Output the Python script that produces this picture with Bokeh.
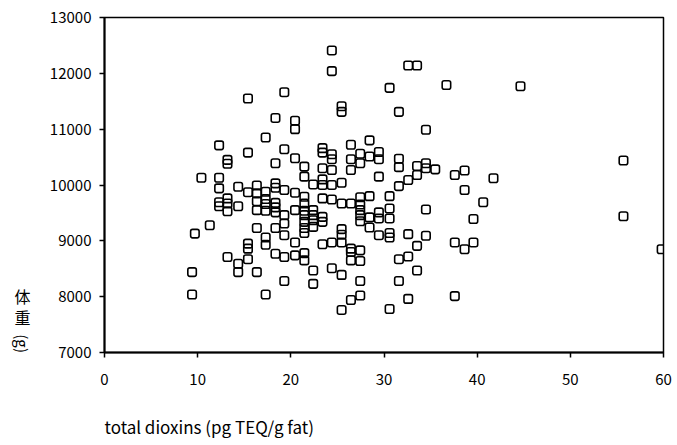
from bokeh.plotting import figure
from bokeh.layouts import row
from bokeh.models import Range1d, FixedTicker, Title
from bokeh.core.properties import value
from bokeh.embed import file_html
from bokeh.resources import INLINE

# total dioxins in breast milk (pg TEQ/g fat) and infant body weight (g),
# listed column by column along the x axis
dioxins = (
    [9.4, 9.4, 9.7, 10.4, 11.3]
    + [12.3] * 5 + [13.2] * 6 + [14.35] * 4 + [15.4] * 6 + [16.35] * 6
    + [17.3] * 8 + [18.35] * 9 + [19.3] * 8 + [20.45] * 7 + [21.45] * 11
    + [22.4] * 7 + [23.4] * 9 + [24.4] * 9 + [25.45] * 9 + [26.45] * 8
    + [27.45] * 11 + [28.45] * 5 + [29.45] * 6 + [30.6] * 7 + [31.6] * 6
    + [32.6] * 5 + [33.55] * 5 + [34.5] * 5
    + [35.5, 36.7, 37.6, 37.6, 37.6, 38.65, 38.65, 38.65, 39.6, 39.6,
       40.65, 41.75, 44.65, 55.7, 55.7, 59.8]
)
body_weight = [
    8440, 8040, 9130, 10130, 9280,
    10710, 10130, 9940, 9690, 9620,
    10450, 10380, 9760, 9670, 9530, 8710,
    9970, 9620, 8590, 8440,
    11550, 10580, 9870, 8950, 8860, 8670,
    9990, 9850, 9710, 9550, 9230, 8440,
    10850, 9880, 9750, 9660, 9540, 9060, 8930, 8040,
    11200, 10390, 10030, 9950, 9680, 9600, 9510, 9230, 8770,
    11660, 10640, 9910, 9460, 9310, 9100, 8710, 8280,
    11150, 11000, 10480, 9860, 9550, 8970, 8740,
    10330, 10150, 9790, 9670, 9540, 9460, 9340, 9230, 9140, 8780, 8650,
    10010, 9550, 9460, 9370, 9250, 8470, 8230,
    10660, 10580, 10300, 10100, 10000, 9760, 9430, 9340, 8940,
    12410, 12040, 10550, 10460, 10270, 10000, 9740, 8970, 8510,
    11410, 11310, 10040, 9670, 9210, 9110, 8970, 8390, 7760,
    10720, 10460, 10270, 9670, 8860, 8800, 8650, 7940,
    10560, 10390, 9780, 9650, 9550, 9460, 9350, 8830, 8640, 8280, 8020,
    10800, 10510, 9800, 9420, 9240,
    10590, 10460, 10150, 9510, 9400, 9100,
    11740, 9800, 9580, 9400, 9140, 9060, 7780,
    11310, 10470, 10320, 9980, 8670, 8280,
    12140, 10090, 9120, 8720, 7960,
    12140, 10340, 10180, 8910, 8470,
    10990, 10390, 10300, 9560, 9090,
    10280, 11790, 10180, 8970, 8010, 10260, 9910, 8850, 9390, 8970,
    9690, 10120, 11770, 10440, 9440, 8850,
]

x_ticks = [0, 10, 20, 30, 40, 50, 60]
y_ticks = [7000, 8000, 9000, 10000, 11000, 12000, 13000]
x_title = "total dioxins (pg TEQ/g fat)"
y_title_chars = ["体", "重"]
y_title_unit = "(g)"

FONT = "Noto Sans CJK JP"
TITLE_W = 40          # width of the strip that holds the vertical y title
W, H = 677, 445

y_range = Range1d(7000, 13000)

# narrow strip on the left holding the vertical y title; it shares the
# body-weight range so the characters sit next to the lower part of the axis
side = figure(width=TITLE_W, height=H, x_range=Range1d(0, TITLE_W),
              y_range=y_range, output_backend="svg",
              toolbar_location=None, x_axis_location=None,
              y_axis_location=None, min_border_left=0, min_border_right=0,
              min_border_top=17, min_border_bottom=93,
              background_fill_color="white", border_fill_color="white")
side.grid.visible = False
side.outline_line_color = None
side.text(x=[22, 22], y=[8010, 7630], text=y_title_chars,
          text_font=value(FONT), text_font_size="16px", text_color="black",
          text_align="center", text_baseline="middle")
side.text(x=[22], y=[7160], text=[y_title_unit], angle=-1.5708,
          text_font=value(FONT), text_font_size="15px", text_color="black",
          text_align="center", text_baseline="middle")

p = figure(
    width=W - TITLE_W, height=H,
    x_range=Range1d(0, 60), y_range=y_range,
    output_backend="svg", toolbar_location=None,
    min_border_left=104 - TITLE_W, min_border_right=14,
    min_border_top=17, min_border_bottom=93,
    background_fill_color="white", border_fill_color="white",
)
p.grid.visible = False
p.outline_line_color = "black"
p.outline_line_width = 1.5

p.xaxis.ticker = FixedTicker(ticks=x_ticks)
p.yaxis.ticker = FixedTicker(ticks=y_ticks)
for ax in (p.xaxis, p.yaxis):
    ax.axis_line_color = "black"
    ax.axis_line_width = 2
    ax.major_tick_line_color = "black"
    ax.major_tick_line_width = 1.5
    ax.major_tick_in = 0
    ax.major_tick_out = 5
    ax.minor_tick_out = 0
    ax.minor_tick_in = 0
    ax.major_label_text_font = FONT
    ax.major_label_text_font_size = "15px"
    ax.major_label_text_color = "black"
p.xaxis.major_label_standoff = 16
p.yaxis.major_label_standoff = 8

# open, slightly rounded square markers
p.rect(dioxins, body_weight, width=8.5, height=8.5,
       width_units="screen", height_units="screen",
       fill_color="white", fill_alpha=0.0, line_color="black",
       line_width=1.6, border_radius=2)

# a thin blank title acts as a spacer between the tick labels and the x title
p.add_layout(Title(text=" ", text_font_size="1px", standoff=21), "below")
# x axis title, left aligned under the origin
p.add_layout(Title(text=x_title, align="left", text_font=FONT,
                   text_font_size="17px", text_font_style="normal",
                   text_color="black", standoff=0,
                   vertical_align="bottom"), "below")

layout = row(side, p, spacing=0)
open("out.html", "w").write(file_html(layout, INLINE))
